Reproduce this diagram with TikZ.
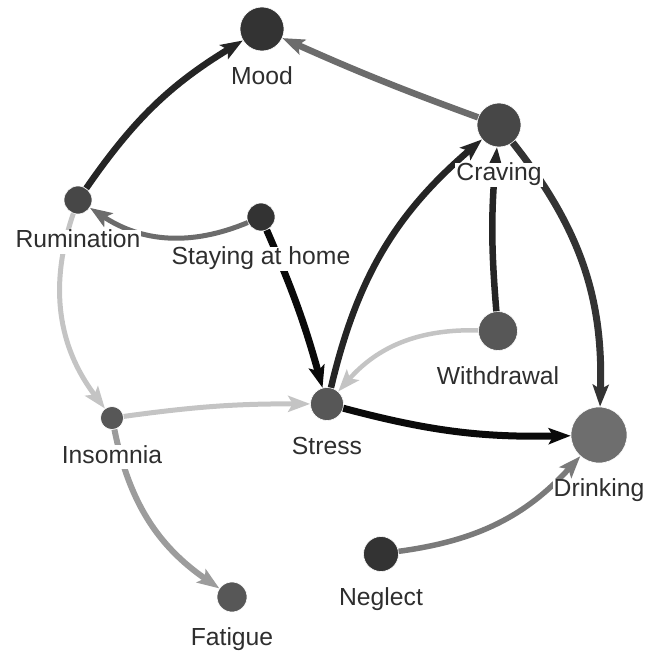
\documentclass[tikz,border=0pt]{standalone}
\usepackage{fontspec}
\setmainfont{Liberation Sans}
\usetikzlibrary{arrows.meta, positioning}

\definecolor{nodedark}{HTML}{333333}
\definecolor{nodemid}{HTML}{474747}
\definecolor{nodegray}{HTML}{575757}
\definecolor{nodelight}{HTML}{6E6E6E}
\definecolor{edgeblack}{HTML}{0A0A0A}
\definecolor{edgedark}{HTML}{252525}
\definecolor{edgegray}{HTML}{6C6C6C}
\definecolor{edgemid}{HTML}{7A7A7A}
\definecolor{edgesoft}{HTML}{9C9C9C}
\definecolor{edgelight}{HTML}{C4C4C4}

\tikzset{
  vertex/.style={circle, inner sep=0pt, minimum size=#1, draw=white, line width=0.6bp},
  lbl/.style={font=\fontsize{24.8}{28}\selectfont, text=black!82, fill=white,
    inner sep=1bp, text height=17bp, text depth=5bp},
  edge/.style={line width=#1, -{Stealth[length=22bp, width=16bp, inset=4.5bp]}},
}

\begin{document}
\begin{tikzpicture}[x=1bp, y=-1bp]
        \useasboundingbox (0,0) rectangle (656,652);

        % vertices
        \node[vertex=44bp, fill=nodedark]  (mood)       at (262,29)  {};
        \node[vertex=44bp, fill=nodemid]   (craving)    at (499,125) {};
        \node[vertex=28bp, fill=nodemid]   (rumination) at (78,200)  {};
        \node[vertex=28bp, fill=nodedark]  (home)       at (261,217) {};
        \node[vertex=39bp, fill=nodegray]  (withdrawal) at (498,331) {};
        \node[vertex=23bp, fill=nodegray]  (insomnia)   at (112,418) {};
        \node[vertex=33bp, fill=nodegray]  (stress)     at (327,404) {};
        \node[vertex=56bp, fill=nodelight] (drinking)   at (599,435) {};
        \node[vertex=35bp, fill=nodedark]  (neglect)    at (381,554) {};
        \node[vertex=30bp, fill=nodegray]  (fatigue)    at (232,597) {};

        % edges
        \draw[edge=6.5bp, edgedark]  (rumination) to[bend left=12] (mood);
        \draw[edge=6.5bp, edgegray]  (craving) to[bend left=2] (mood);
        \draw[edge=5bp, edgegray]    (home) to[bend left=28] (rumination);
        \draw[edge=7bp, edgeblack]   (home) to[bend left=4] (stress);
        \draw[edge=5bp, edgelight]   (rumination) to[bend right=28] (insomnia);
        \draw[edge=5bp, edgelight]   (insomnia) to[bend left=4] (stress);
        \draw[edge=4.5bp, edgelight] (withdrawal) to[bend right=25] (stress);
        \draw[edge=6.5bp, edgedark]  (stress) to[bend left=18] (craving);
        \draw[edge=6.5bp, edgedark]  (withdrawal) to[bend left=5] (craving);
        \draw[edge=7bp, nodedark]    (craving) to[bend left=20] (drinking);
        \draw[edge=7bp, edgeblack]   (stress) to[bend right=8] (drinking);
        \draw[edge=5.5bp, edgemid]   (neglect) to[bend right=20] (drinking);
        \draw[edge=6bp, edgesoft]    (insomnia) to[bend right=22] (fatigue);

        % labels
        \node[lbl] (moodlbl)       [below=15bp of mood]       {Mood};
        \node[lbl] (cravinglbl)    [below=15bp of craving]    {Craving};
        \node[lbl] (ruminationlbl) [below=15bp of rumination] {Rumination};
        \node[lbl] (homelbl)       [below=15bp of home]       {Staying at home};
        \node[lbl] (withdrawallbl) [below=15bp of withdrawal] {Withdrawal};
        \node[lbl] (insomnialbl)   [below=15bp of insomnia]   {Insomnia};
        \node[lbl] (stresslbl)     [below=15bp of stress]     {Stress};
        \node[lbl] (drinkinglbl)   [below=15bp of drinking]   {Drinking};
        \node[lbl] (neglectlbl)    [below=15bp of neglect]    {Neglect};
        \node[lbl] (fatiguelbl)    [below=15bp of fatigue]    {Fatigue};
\end{tikzpicture}
\end{document}
